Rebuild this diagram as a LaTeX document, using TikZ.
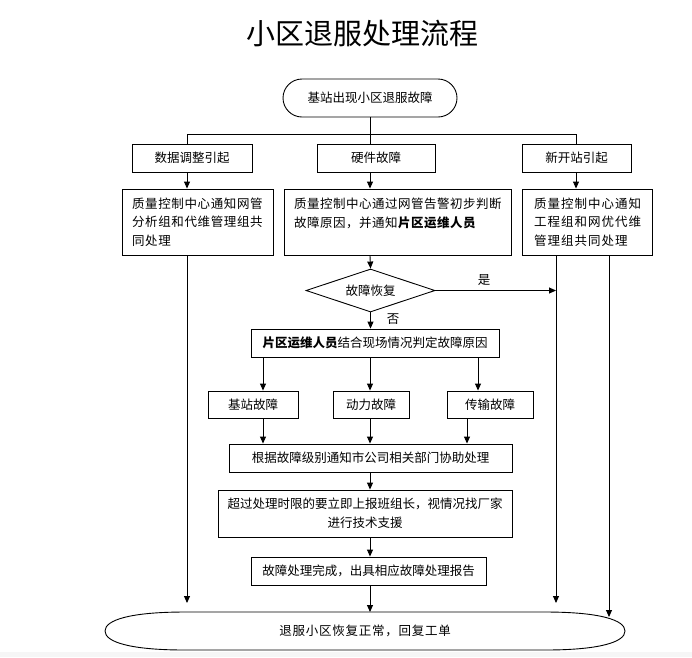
\documentclass[tikz,border=0pt]{standalone}
\usepackage{fontspec}
\setmainfont{Noto Sans CJK SC}
\usetikzlibrary{arrows.meta,shapes.geometric,shapes.misc}
\begin{document}
\begin{tikzpicture}[x=1pt,y=-1pt,
  box/.style={draw,line width=0.9pt,minimum height=28pt,inner sep=0pt,align=center,
    font=\fontsize{12.5}{15}\selectfont},
  bigbox/.style={draw,line width=0.9pt,minimum height=66pt,inner ysep=0pt,align=left},
  arr/.style={-{Triangle[length=7pt,width=6pt]},line width=0.9pt},
  ln/.style={line width=0.9pt},
  lbl/.style={font=\fontsize{12.5}{15}\selectfont,inner sep=0pt}]
\useasboundingbox (0,0) rectangle (692,657);
\fill[gray!7] (0,652) rectangle (692,657);

\node[font=\fontsize{29}{32}\selectfont,inner sep=0pt] (title) at (362,33) {小区退服处理流程};

\node[draw,line width=0.9pt,rounded rectangle,minimum width=174pt,minimum height=38pt,inner sep=0pt,
  font=\fontsize{12.5}{15}\selectfont] (start) at (370,98) {基站出现小区退服故障};

\node[box,minimum width=120pt] (b1) at (192,158) {数据调整引起};
\node[box,minimum width=118pt] (b2) at (376,158) {硬件故障};
\node[box,minimum width=109pt] (b3) at (576.5,158) {新开站引起};

\node[bigbox,inner xsep=10pt,text width=131pt,
  font=\fontsize{12.5}{18.5}\selectfont\addfontfeature{LetterSpace=5}] (c1) at (197.5,222)
  {质量控制中心通知网管\\分析组和代维管理组共\\同处理};
\node[bigbox,inner xsep=10pt,text width=207pt,
  font=\fontsize{12.5}{18.5}\selectfont\addfontfeature{LetterSpace=4}] (c2) at (397.5,222)
  {质量控制中心通过网管告警初步判断\\故障原因，并通知\textbf{片区运维人员}\\ ~};
\node[bigbox,inner xsep=12pt,text width=106pt,
  font=\fontsize{12.5}{18.5}\selectfont\addfontfeature{LetterSpace=8}] (c3) at (587,222)
  {质量控制中心通知\\工程组和网优代维\\管理组共同处理};

\node[draw,line width=0.9pt,diamond,aspect=3,minimum width=129pt,minimum height=43pt,inner sep=0pt,
  font=\fontsize{12.5}{15}\selectfont] (dia) at (370.5,290.5) {故障恢复};

\node[box,minimum width=248pt] (d) at (375,343) {\textbf{片区运维人员}结合现场情况判定故障原因};

\node[box,minimum width=90pt,minimum height=27pt] (e1) at (253,404.5) {基站故障};
\node[box,minimum width=76pt,minimum height=27pt] (e2) at (371,404.5) {动力故障};
\node[box,minimum width=86pt,minimum height=27pt] (e3) at (490,404.5) {传输故障};

\node[box,minimum width=283pt] (f) at (370.5,458) {根据故障级别通知市公司相关部门协助处理};
\node[box,minimum width=294pt,minimum height=47pt,font=\fontsize{12.5}{19}\selectfont] (g) at (365,513.5)
  {超过处理时限的要立即上报班组长，视情况找厂家\\进行技术支援};
\node[box,minimum width=235pt] (h) at (368.5,571) {故障处理完成，出具相应故障处理报告};

\draw[line width=0.9pt] (365,612) -- (545,612) .. controls (600,612) and (625,620) .. (625,631)
  .. controls (625,642) and (600,650) .. (545,650) -- (185,650)
  .. controls (130,650) and (105,642) .. (105,631)
  .. controls (105,620) and (130,612) .. (185,612) -- cycle;
\node[lbl,font=\fontsize{12.5}{15}\selectfont\addfontfeature{LetterSpace=6}] (endn) at (365,631) {退服小区恢复正常，回复工单};
\coordinate (endtop) at (370,612);

% connector x positions
\coordinate (xL) at (187,0);
\coordinate (xM) at (370,0);
\coordinate (xR) at (576,0);
\coordinate (xR1) at (556,0);
\coordinate (xR2) at (609,0);
\coordinate (x1) at (263,0);
\coordinate (x3) at (478,0);
\coordinate (x3b) at (467,0);
\coordinate (bus) at (370,134);
\coordinate (tL) at (187,603);
\coordinate (tR1) at (556,603);
\coordinate (tR2) at (609,617);

\draw[ln] (start.south -| xM) -- (bus);
\draw[ln] (xL |- bus) -- (xR |- bus);
\draw[ln] (xL |- bus) -- (b1.north -| xL);
\draw[ln] (bus) -- (b2.north -| xM);
\draw[ln] (xR |- bus) -- (b3.north -| xR);

\draw[arr] (b1.south -| xL) -- (c1.north -| xL);
\draw[arr] (b2.south -| xM) -- (c2.north -| xM);
\draw[arr] (b3.south -| xR) -- (c3.north -| xR);

\draw[arr] (c2.south -| xM) -- (dia.north);
\draw[arr] (dia.east) -- (xR1 |- dia.east);
\node[lbl] (yes) at (484,280) {是};
\draw[arr] (dia.south) -- (d.north -| dia.south);
\node[lbl] (no) at (393,319) {否};

\draw[arr] (d.south -| x1) -- (e1.north -| x1);
\draw[arr] (d.south -| xM) -- (e2.north -| xM);
\draw[arr] (d.south -| x3) -- (e3.north -| x3);

\draw[arr] (e1.south -| x1) -- (f.north -| x1);
\draw[arr] (e2.south -| xM) -- (f.north -| xM);
\draw[arr] (e3.south -| x3b) -- (f.north -| x3b);

\draw[arr] (f.south -| xM) -- (g.north -| xM);
\draw[arr] (g.south -| xM) -- (h.north -| xM);
\draw[arr] (h.south -| xM) -- (endtop);

\draw[arr] (c1.south -| xL) -- (tL);
\draw[arr] (c3.south -| xR1) -- (tR1);
\draw[arr] (c3.south -| xR2) -- (tR2);
\end{tikzpicture}
\end{document}
